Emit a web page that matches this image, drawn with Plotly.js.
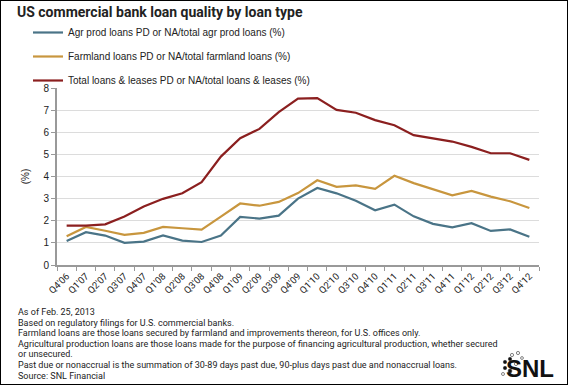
<!DOCTYPE html>
<html>
<head>
<meta charset="utf-8">
<script src="https://cdn.plot.ly/plotly-3.0.1.min.js"></script>
<style>
html,body{margin:0;padding:0;background:#fff;}
#chart{width:569px;height:385px;}
#frame{position:absolute;left:0;top:0;width:568px;height:385px;border:1px solid #000;box-sizing:border-box;pointer-events:none;}
</style>
</head>
<body>
<div id="chart"></div>
<div id="frame"></div>
<script>
const quarters = ["Q4'06","Q1'07","Q2'07","Q3'07","Q4'07","Q1'08","Q2'08","Q3'08","Q4'08",
  "Q1'09","Q2'09","Q3'09","Q4'09","Q1'10","Q2'10","Q3'10","Q4'10","Q1'11","Q2'11","Q3'11",
  "Q4'11","Q1'12","Q2'12","Q3'12","Q4'12"];
const agrProd = [1.09,1.48,1.33,1.00,1.06,1.34,1.10,1.04,1.33,2.17,2.10,2.23,3.00,3.48,3.24,2.90,2.47,2.73,2.20,1.86,1.70,1.89,1.54,1.61,1.28];
const farmland = [1.30,1.72,1.55,1.36,1.45,1.72,1.66,1.60,2.19,2.78,2.68,2.85,3.25,3.83,3.53,3.60,3.44,4.03,3.70,3.41,3.15,3.35,3.09,2.88,2.58];
const totalLoans = [1.78,1.78,1.84,2.19,2.64,2.99,3.24,3.74,4.90,5.73,6.15,6.91,7.52,7.54,7.01,6.88,6.55,6.32,5.87,5.72,5.58,5.34,5.05,5.05,4.75];
const seriesNames = ["Agr prod loans PD or NA/total agr prod loans (%)",
  "Farmland loans PD or NA/total farmland loans (%)",
  "Total loans & leases PD or NA/total loans & leases (%)"];
const yTicks = [0,1,2,3,4,5,6,7,8];
const footnotes = ["As of Feb. 25, 2013",
  "Based on regulatory filings for U.S. commercial banks.",
  "Farmland loans are those loans secured by farmland and improvements thereon, for U.S. offices only.",
  "Agricultural production loans are those loans made for the purpose of financing agricultural production, whether secured",
  "or unsecured.",
  "Past due or nonaccrual is the summation of 30-89 days past due, 90-plus days past due and nonaccrual loans.",
  "Source: SNL Financial"];

const colors = ["#4a7487","#c8963e","#8b1f1f"];
const data = [agrProd, farmland, totalLoans].map((ys,i)=>({
  x: quarters, y: ys, type:'scatter', mode:'lines', name: seriesNames[i],
  legendgroup: 'g'+i,
  line:{color:colors[i], width:2.2}, hoverinfo:'skip'
}));

const W=569,H=385;
const ml=57, mr=30, mt=88, mb=120;
const pw=W-ml-mr, ph=H-mt-mb;
function px(x){return (x-ml)/pw;}
function py(y){return (H-mb-y)/ph;}

const annotations = footnotes.map((t,i)=>({
  text:t, xref:'paper', yref:'paper', x:px(16), y:py(312+10.6*i), xanchor:'left', yanchor:'middle',
  showarrow:false, font:{family:'Roboto, sans-serif', size:9, color:'#222'}
}));
annotations.push({text:'<b>SNL</b>', xref:'paper', yref:'paper', x:px(556), y:py(368), xanchor:'right', yanchor:'middle',
  showarrow:false, font:{family:'Liberation Sans, Arial, sans-serif', size:24, color:'#111'}});

// logo dots
const dots = [[505,362,1.7,true],[510,359,1.7,true],[505,368,1.7,true],[510,371,1.9,true],[516,364,1.6,false],[512,355,1.6,false],[518,353,1.6,false],[503,374,1.5,false],[522,358,1.4,false]];
const shapes = dots.map(d=>({type:'circle', xref:'paper', yref:'paper',
  x0:px(d[0]-d[2]), x1:px(d[0]+d[2]), y0:py(d[1]+d[2]), y1:py(d[1]-d[2]),
  fillcolor: d[3]?'#111':'#fff', line:{color:'#333', width:0.6}}));

const layout = {
  width:W, height:H,
  margin:{l:ml, r:mr, t:mt, b:mb},
  paper_bgcolor:'#fff', plot_bgcolor:'#fff',
  title:{text:'<b>US commercial bank loan quality by loan type</b>', x:17/W, xanchor:'left', y:1-12/H, yanchor:'middle',
    font:{family:'Roboto, sans-serif', size:14, color:'#222'}},
  showlegend:true,
  legend:{x:px(28), y:py(18), xanchor:'left', yanchor:'top', traceorder:'grouped', tracegroupgap:5,
    font:{family:'Liberation Sans, Arial, sans-serif', size:10, color:'#222'}, bgcolor:'rgba(0,0,0,0)'},
  xaxis:{type:'category', range:[-0.5, quarters.length-0.5], tickson:'boundaries', ticks:'outside', ticklen:4, tickcolor:'#999',
    tickangle:-45, tickfont:{family:'Roboto, sans-serif', size:9.5, color:'#222'},
    showline:true, linecolor:'#999', linewidth:2, showgrid:false, zeroline:false, fixedrange:true},
  yaxis:{range:[0,8], tickvals:yTicks, ticks:'outside', ticklen:4, tickcolor:'#999',
    tickfont:{family:'Liberation Sans, Arial, sans-serif', size:10, color:'#222'},
    showline:true, linecolor:'#999', linewidth:2, showgrid:true, gridcolor:'#dcdcdc', gridwidth:1, zeroline:false,
    title:{text:'(%)', font:{family:'Liberation Sans, Arial, sans-serif', size:10, color:'#222'}, standoff:12}},
  annotations: annotations,
  shapes: shapes
};
Plotly.newPlot('chart', data, layout, {displayModeBar:false, staticPlot:true});
</script>
</body>
</html>
